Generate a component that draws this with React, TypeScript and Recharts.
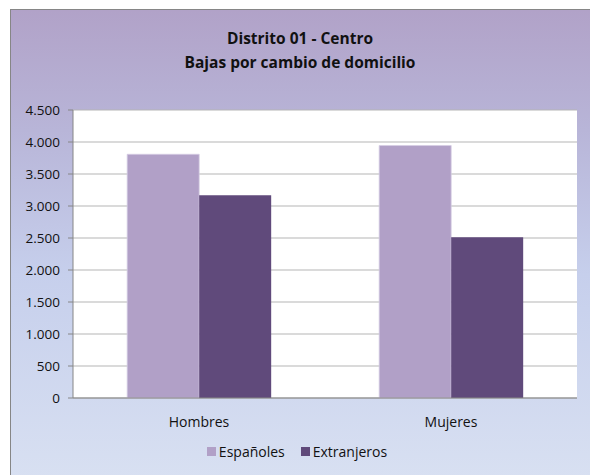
import { BarChart, Bar, XAxis, YAxis, CartesianGrid } from 'recharts';

const categories = ['Hombres', 'Mujeres'];
const espanoles = [3808, 3945];
const extranjeros = [3168, 2512];
const yTicks = [0, 500, 1000, 1500, 2000, 2500, 3000, 3500, 4000, 4500];

const data = categories.map((c, i) => ({
  name: c,
  espanoles: espanoles[i],
  extranjeros: extranjeros[i],
}));

const FONT = '"Open Sans", "Noto Sans", sans-serif';

// 4500 -> "4.500"
const fmt = (v: number) => String(v).replace(/\B(?=(\d{3})+(?!\d))/g, '.');

export default function App() {
  return (
    <div style={{ position: 'absolute', left: 0, top: 0, width: 590, height: 475, overflow: 'hidden', background: '#fff', fontFamily: FONT }}>
      {/* chart frame */}
      <div
        style={{
          position: 'absolute',
          left: 10,
          top: 9,
          width: 600,
          height: 480,
          borderLeft: '1.5px solid #868686',
          borderTop: '1.5px solid #868686',
          background: 'linear-gradient(to bottom, #b1a2c8 0%, #b8b5d8 25%, #c6cfec 55%, #d9e1f2 100%)',
        }}
      />
      <div
        style={{
          position: 'absolute',
          left: 0,
          top: 26,
          width: 600,
          textAlign: 'center',
          fontWeight: 700,
          fontSize: 15.5,
          lineHeight: '24px',
          color: '#111',
        }}
      >
        Distrito 01 - Centro
        <br />
        Bajas por cambio de domicilio
      </div>
      <div style={{ position: 'absolute', left: 0, top: 0 }}>
        <BarChart
          width={590}
          height={475}
          data={data}
          margin={{ top: 110, right: 13, bottom: 47, left: 13 }}
          barCategoryGap="21.5%"
          barGap={0}
        >
          <CartesianGrid vertical={false} stroke="#b5b5b5" fill="#ffffff" />
          <XAxis
            dataKey="name"
            height={30}
            stroke="#868686"
            tickLine={false}
            tickMargin={13}
            tick={{ fill: '#111', fontSize: 14, fontFamily: FONT }}
          />
          <YAxis
            width={60}
            domain={[0, 4500]}
            ticks={yTicks}
            interval={0}
            stroke="#868686"
            tickSize={5}
            tickMargin={8}
            tickFormatter={fmt}
            tick={{ fill: '#111', fontSize: 13.5, fontFamily: FONT }}
          />
          <Bar dataKey="espanoles" name="Españoles" fill="#b1a0c7" stroke="#d6cde3" strokeWidth={0.8} isAnimationActive={false} />
          <Bar dataKey="extranjeros" name="Extranjeros" fill="#604a7b" isAnimationActive={false} />
        </BarChart>
      </div>
      {/* legend */}
      <div
        style={{
          position: 'absolute',
          left: 0,
          top: 442,
          width: 590,
          display: 'flex',
          justifyContent: 'center',
          alignItems: 'center',
          fontSize: 14,
          color: '#111',
          paddingLeft: 4,
          boxSizing: 'border-box',
        }}
      >
        <span style={{ width: 9, height: 9, background: '#b1a0c7', marginRight: 3 }} />
        <span style={{ marginRight: 16 }}>Españoles</span>
        <span style={{ width: 9, height: 9, background: '#604a7b', marginRight: 3 }} />
        <span>Extranjeros</span>
      </div>
    </div>
  );
}
